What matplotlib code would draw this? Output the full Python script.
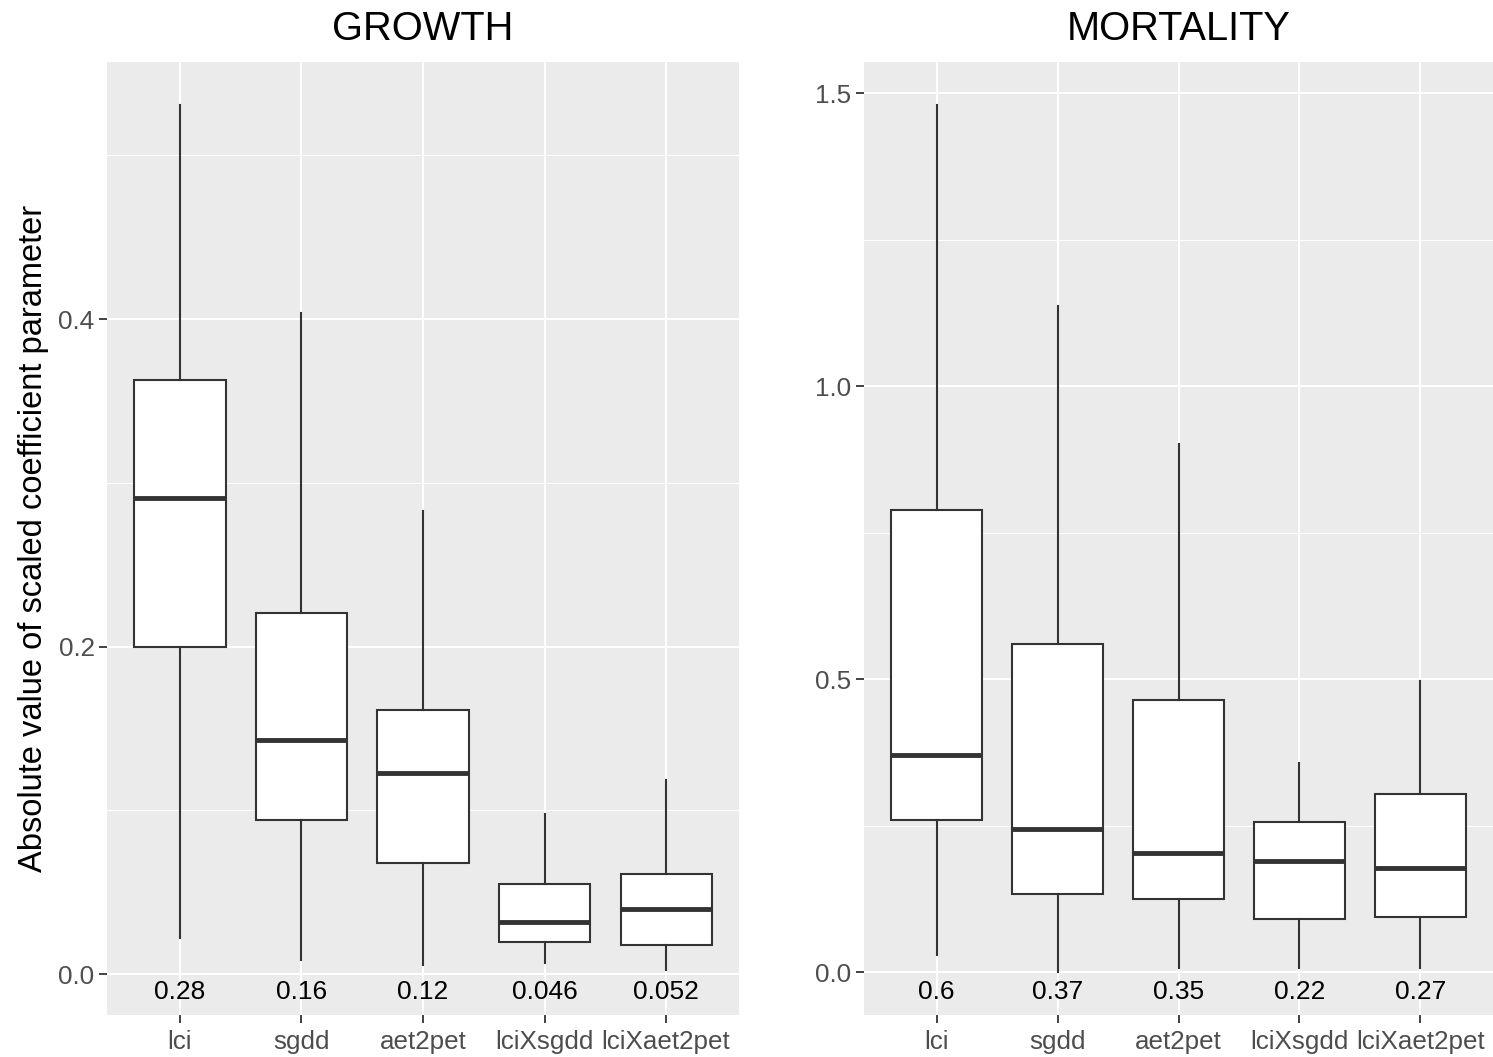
import numpy as np
import matplotlib
matplotlib.use("Agg")
import matplotlib.pyplot as plt
from matplotlib.ticker import MultipleLocator

plt.rcParams['font.family'] = ['Liberation Sans', 'DejaVu Sans']

# ---------------- data ----------------
params = ["lci", "sgdd", "aet2pet", "lciXsgdd", "lciXaet2pet"]

# growth: whisker low, Q1, median, Q3, whisker high
growth_lo = [0.022, 0.0086, 0.0055, 0.0067, 0.0024]
growth_q1 = [0.200, 0.094, 0.068, 0.0196, 0.018]
growth_med = [0.291, 0.143, 0.123, 0.032, 0.040]
growth_q3 = [0.363, 0.2205, 0.161, 0.055, 0.061]
growth_hi = [0.531, 0.404, 0.283, 0.098, 0.1185]
growth_lab = ["0.28", "0.16", "0.12", "0.046", "0.052"]

mort_lo = [0.029, 0.0, 0.007, 0.007, 0.007]
mort_q1 = [0.259, 0.133, 0.125, 0.090, 0.094]
mort_med = [0.370, 0.244, 0.203, 0.189, 0.177]
mort_q3 = [0.788, 0.560, 0.464, 0.256, 0.304]
mort_hi = [1.479, 1.136, 0.901, 0.357, 0.497]
mort_lab = ["0.6", "0.37", "0.35", "0.22", "0.27"]

W, H = 1493, 1057
fig = plt.figure(figsize=(W / 100, H / 100), dpi=100)
fig.patch.set_facecolor("white")

ax1 = fig.add_axes([107 / W, 1 - 1015 / H, 632 / W, 953 / H])
ax2 = fig.add_axes([864 / W, 1 - 1015 / H, 629 / W, 953 / H])


def draw_panel(ax, lo, q1, med, q3, hi, labs, title, ylim, major, minor, lab_y):
    ax.set_facecolor("#EBEBEB")
    stats = []
    for i in range(len(params)):
        stats.append(dict(whislo=lo[i], q1=q1[i], med=med[i], q3=q3[i],
                          whishi=hi[i], fliers=[], label=params[i]))
    ax.bxp(stats, positions=np.arange(1, len(params) + 1), widths=0.75,
           showcaps=False, showfliers=False, patch_artist=True,
           boxprops=dict(facecolor="white", edgecolor="#333333", linewidth=1.5),
           whiskerprops=dict(color="#333333", linewidth=1.5),
           medianprops=dict(color="#333333", linewidth=3.5, solid_capstyle="butt"),
           zorder=3)
    for i, t in enumerate(labs):
        ax.text(i + 1, lab_y, t, ha="center", va="center", fontsize=19,
                color="black", zorder=4)
    ax.set_xlim(0.4, len(params) + 0.6)
    ax.set_ylim(*ylim)
    ax.yaxis.set_major_locator(MultipleLocator(major))
    ax.yaxis.set_minor_locator(MultipleLocator(minor))
    ax.grid(which="major", color="white", linewidth=1.5, zorder=0)
    ax.grid(which="minor", axis="y", color="white", linewidth=0.7, zorder=0)
    ax.set_axisbelow(True)
    for s in ax.spines.values():
        s.set_visible(False)
    ax.tick_params(which="major", length=6, width=1.3, color="#333333",
                   labelsize=18.7, labelcolor="#4D4D4D", pad=3)
    ax.tick_params(axis="x", which="major", pad=5)
    ax.tick_params(which="minor", length=0)
    ax.set_xticks(np.arange(1, len(params) + 1))
    ax.set_xticklabels(params)
    ax.set_title(title, fontsize=28.7, pad=16)


draw_panel(ax1, growth_lo, growth_q1, growth_med, growth_q3, growth_hi,
           growth_lab, "GROWTH", (-0.025, 0.557), 0.2, 0.1, -0.011)
ax1.yaxis.set_major_formatter(plt.FuncFormatter(lambda v, p: f"{v:.1f}"))
ax1.set_ylabel("Absolute value of scaled coefficient parameter", fontsize=23.5,
               labelpad=7)

draw_panel(ax2, mort_lo, mort_q1, mort_med, mort_q3, mort_hi,
           mort_lab, "MORTALITY", (-0.073, 1.553), 0.5, 0.25, -0.034)
ax2.yaxis.set_major_formatter(plt.FuncFormatter(lambda v, p: f"{v:.1f}"))

fig.savefig("out.png", dpi=100)
